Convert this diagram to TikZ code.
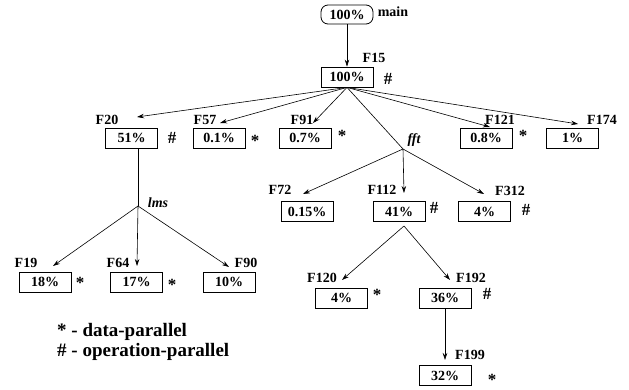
\documentclass[tikz,border=0pt]{standalone}
\usepackage{fontspec}
\setmainfont{Liberation Serif}
\usetikzlibrary{arrows.meta}
\begin{document}
\begin{tikzpicture}[x=1pt,y=-1pt,
  box/.style={draw, line width=0.8pt, minimum width=52pt, minimum height=20pt, inner sep=0pt, font=\fontsize{14}{16}\selectfont\bfseries},
  lab/.style={inner sep=0pt, font=\fontsize{14}{16}\selectfont\bfseries},
  sym/.style={inner sep=0pt, font=\fontsize{17}{18}\selectfont\bfseries},
  ital/.style={inner sep=0pt, font=\fontsize{14}{16}\selectfont\bfseries\itshape},
  leg/.style={inner sep=0pt, anchor=base west, font=\fontsize{19}{22}\selectfont\bfseries},
  arr/.style={-{Stealth[length=7pt,width=4.5pt]}, line width=0.6pt},
  ln/.style={line width=0.6pt}]
\useasboundingbox (0,0) rectangle (629,390);

% main
\node[box, rounded corners=7pt, minimum height=19pt] (main) at (347,14.5) {100\%};
\node[lab] (lmain) at (393,12) {main};
% F15
\node[box] (b15) at (347,77) {100\%};
\node[lab] (l15) at (374,58) {F15};
\node[sym] (s15) at (388,79) {\#};
\draw[arr] (main) -- (b15);

% level 1
\node[lab] (l20) at (107,120) {F20};
\node[box] (b20) at (131.5,138) {51\%};
\node[sym] (s20) at (172,138) {\#};
\coordinate (t20) at (137,117);

\node[lab] (l57) at (205,120) {F57};
\node[box] (b57) at (219,138) {0.1\%};
\node[sym] (s57) at (255,141) {*};
\coordinate (t57) at (220,123);

\node[lab] (l91) at (302,120) {F91};
\node[box] (b91) at (305,138) {0.7\%};
\node[sym] (s91) at (342,136) {*};
\coordinate (t91) at (313,123);

\node[lab] (l121) at (500,120) {F121};
\node[box] (b121) at (486,138) {0.8\%};
\node[sym] (s121) at (523,136) {*};
\coordinate (t121) at (490,127);

\node[lab] (l174) at (602,120) {F174};
\node[box] (b174) at (572.5,138) {1\%};
\coordinate (t174) at (578,124);

\coordinate (jfft) at (403,149);
\node[ital] (lfft) at (414,140) {fft};

\draw[arr] (b15.south) -- (t20);
\draw[arr] (b15.south) -- (t57);
\draw[arr] (b15.south) -- (t91);
\draw[ln] (b15.south) -- (jfft);
\draw[arr] (b15.south) -- (t121);
\draw[arr] (b15.south) -- (t174);

% lms branch
\coordinate (jlms) at (138,206);
\node[ital] (llms) at (158,203) {lms};
\draw[ln] (b20.south -| jlms) -- (jlms);

\node[lab] (l19) at (26,263) {F19};
\node[box] (b19) at (45,282) {18\%};
\node[sym] (s19) at (80,283) {*};
\coordinate (t19) at (53,266);

\node[lab] (l64) at (118,263) {F64};
\node[box] (b64) at (136.5,282) {17\%};
\node[sym] (s64) at (172,285) {*};
\coordinate (t64) at (137,266);

\node[lab] (l90) at (246,263) {F90};
\node[box] (b90) at (229,282) {10\%};
\coordinate (t90) at (229,267);

\draw[arr] (jlms) -- (t19);
\draw[arr] (jlms) -- (t64);
\draw[arr] (jlms) -- (t90);

% fft branch
\node[lab] (l72) at (280,190) {F72};
\node[box] (b72) at (307,211.5) {0.15\%};
\coordinate (t72) at (303,194);

\node[lab] (l112) at (382,190) {F112};
\node[box] (b112) at (399,211.5) {41\%};
\node[sym] (s112) at (434,208) {\#};
\coordinate (t112) at (404,193);

\node[lab] (l312) at (510,191) {F312};
\node[box] (b312) at (484.5,211.5) {4\%};
\node[sym] (s312) at (526,210) {\#};
\coordinate (t312) at (484,194);

\draw[arr] (jfft) -- (t72);
\draw[arr] (jfft) -- (t112);
\draw[arr] (jfft) -- (t312);

% F112 branch
\coordinate (j112) at (404,226);
\node[lab] (l120) at (322,278) {F120};
\node[box] (b120) at (341.5,298) {4\%};
\node[sym] (s120) at (377,295) {*};
\coordinate (t120) at (342,280);

\node[lab] (l192) at (471,278) {F192};
\node[box] (b192) at (445,298) {36\%};
\node[sym] (s192) at (487,294) {\#};
\coordinate (t192) at (450,280);

\draw[arr] (j112) -- (t120);
\draw[arr] (j112) -- (t192);

\node[lab] (l199) at (470,355) {F199};
\node[box] (b199) at (445,375.5) {32\%};
\node[sym] (s199) at (492,380) {*};
\coordinate (t199) at (445,360);
\draw[arr] (b192.south) -- (t199);

% legend
\node[leg] (leg1) at (57,336) {* - data-parallel};
\node[leg] (leg2) at (57,356) {\# - operation-parallel};
\end{tikzpicture}
\end{document}
